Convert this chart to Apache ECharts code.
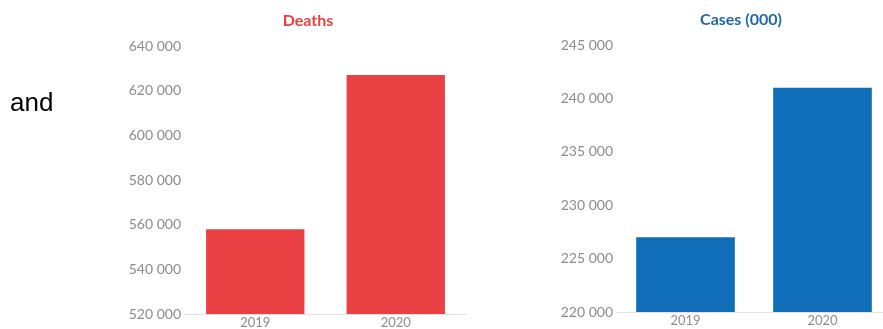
<!DOCTYPE html>
<html>
<head>
<meta charset="utf-8">
<script src="https://cdn.jsdelivr.net/npm/echarts@6/dist/echarts.min.js"></script>
<style>
  html, body { margin: 0; padding: 0; background: #fff; }
  #chart { width: 883px; height: 329px; }
</style>
</head>
<body>
<div id="chart"></div>
<script>
// years on both panels
const years = ["2019", "2020"];

// left panel: deaths
const deaths = [558000, 627000];
const deathsMin = 520000, deathsMax = 640000, deathsStep = 20000;

// right panel: cases (thousands)
const cases = [227000, 241000];
const casesMin = 220000, casesMax = 245000, casesStep = 5000;

const red = "#e84043";
const blue = "#106db7";
const grey = "#8c8c8c";
const font = "Lato, 'Noto Sans', sans-serif";

// 640000 -> "640 000"
const spaced = (v) => String(v).replace(/\B(?=(\d{3})+(?!\d))/g, " ");

const chart = echarts.init(document.getElementById("chart"), null, { renderer: "canvas" });

const yAxisBase = {
    type: "value",
    axisLine: { show: false },
    axisTick: { show: false },
    splitLine: { show: false },
    axisLabel: { color: grey, fontSize: 14, fontFamily: font, margin: 4, formatter: spaced },
};

const xAxisBase = {
    type: "category",
    data: years,
    axisTick: { show: false },
    axisLine: { lineStyle: { color: "#e3e3e3", width: 1 } },
    axisLabel: { color: grey, fontSize: 13, fontFamily: font, margin: 2 },
};

const option = {
    backgroundColor: "#fff",
    animation: false,
    graphic: [
        {
            type: "text",
            x: 308,
            y: 21,
            style: {
                text: "Deaths", fill: red, align: "center", verticalAlign: "middle",
                font: "bold 16px Lato, 'Noto Sans', sans-serif",
            },
        },
        {
            type: "text",
            x: 741,
            y: 20,
            style: {
                text: "Cases (000)", fill: "#1f6aa6", align: "center", verticalAlign: "middle",
                font: "bold 16px Lato, 'Noto Sans', sans-serif",
            },
        },
        {
            type: "text",
            x: 10,
            y: 104,
            style: {
                text: "and", fill: "#000", verticalAlign: "middle",
                font: "26px 'Liberation Sans', Arial, sans-serif",
            },
        },
    ],
    grid: [
        { left: 185, width: 281, top: 46, bottom: 15, outerBoundsMode: "none" },
        // the right panel runs a little past the page edge
        { left: 617, width: 274, top: 45, bottom: 17, outerBoundsMode: "none" },
    ],
    xAxis: [
        { ...xAxisBase, gridIndex: 0 },
        { ...xAxisBase, gridIndex: 1 },
    ],
    yAxis: [
        { ...yAxisBase, gridIndex: 0, min: deathsMin, max: deathsMax, interval: deathsStep },
        { ...yAxisBase, gridIndex: 1, min: casesMin, max: casesMax, interval: casesStep },
    ],
    series: [
        {
            name: "Deaths",
            type: "bar",
            xAxisIndex: 0,
            yAxisIndex: 0,
            data: deaths,
            barCategoryGap: "30%",
            itemStyle: { color: red },
        },
        {
            name: "Cases (000)",
            type: "bar",
            xAxisIndex: 1,
            yAxisIndex: 1,
            data: cases,
            barCategoryGap: "28%",
            itemStyle: { color: blue },
        },
    ],
};

chart.setOption(option);
</script>
</body>
</html>
